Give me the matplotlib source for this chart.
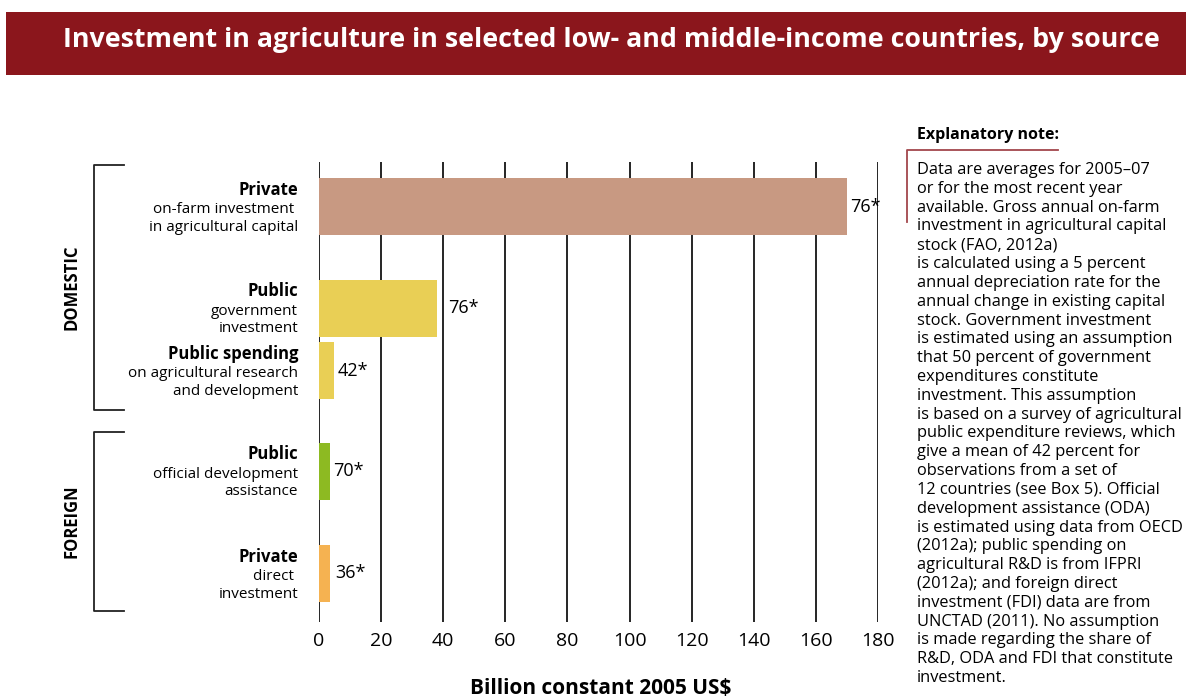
import matplotlib.pyplot as plt
from matplotlib.patches import Rectangle
from matplotlib.lines import Line2D

plt.rcParams['font.family'] = ['Open Sans', 'DejaVu Sans']

# Données
categories_bold = ['Private', 'Public', 'Public spending', 'Public', 'Private']
categories_detail = ['on-farm investment \nin agricultural capital',
                     'government\ninvestment',
                     'on agricultural research\nand development',
                     'official development\nassistance',
                     'direct \ninvestment']
values = [170, 38, 4.8, 3.5, 3.5]
value_labels = ['76*', '76*', '42*', '70*', '36*']
bar_colors = ['#C89982', '#E9CF55', '#E9CF55', '#8DBA22', '#F5B251']
xticks = list(range(0, 181, 20))

note = ("Data are averages for 2005\u201307\n"
        "or for the most recent year\n"
        "available. Gross annual on-farm\n"
        "investment in agricultural capital\n"
        "stock (FAO, 2012a)\n"
        "is calculated using a 5 percent\n"
        "annual depreciation rate for the\n"
        "annual change in existing capital\n"
        "stock. Government investment\n"
        "is estimated using an assumption\n"
        "that 50 percent of government\n"
        "expenditures constitute\n"
        "investment. This assumption\n"
        "is based on a survey of agricultural\n"
        "public expenditure reviews, which\n"
        "give a mean of 42 percent for\n"
        "observations from a set of\n"
        "12 countries (see Box 5). Official\n"
        "development assistance (ODA)\n"
        "is estimated using data from OECD\n"
        "(2012a); public spending on\n"
        "agricultural R&D is from IFPRI\n"
        "(2012a); and foreign direct\n"
        "investment (FDI) data are from\n"
        "UNCTAD (2011). No assumption\n"
        "is made regarding the share of\n"
        "R&D, ODA and FDI that constitute\n"
        "investment.")

W, H = 1186, 697


def fx(px):
    return px / W


def fy(py):
    return 1 - py / H


fig = plt.figure(figsize=(W / 100, H / 100), dpi=100)

# Bandeau du titre
fig.patches.append(Rectangle((fx(6), fy(75)), fx(1186 - 6), 63 / H, transform=fig.transFigure,
                             facecolor='#8B161C', edgecolor='none'))
fig.text(fx(611), fy(40), 'Investment in agriculture in selected low- and middle-income countries, by source',
         color='white', fontsize=19.3, fontweight='bold', ha='center', va='center')

# Axes principal
ax = fig.add_axes([fx(319), fy(622), fx(559), 460 / H])
positions = [4.45, 14.6, 20.85, 30.9, 41.15]
label_gap = [3, 11, 4, 3, 5]  # décalage (pixels) des étiquettes de valeur
ax.set_ylim(46, 0)
ax.set_xlim(0, 180)
ax.vlines(xticks, 0, 46, colors='black', linewidth=1.2, zorder=1)
ax.barh(positions, values, height=5.7, color=bar_colors, zorder=3)

for pos, val, lab, gap, b, d in zip(positions, values, value_labels, label_gap,
                                    categories_bold, categories_detail):
    ax.annotate(lab, xy=(val, pos), xytext=(gap, 0), textcoords='offset pixels',
                va='center', ha='left', fontsize=13, zorder=4)
    ax.annotate(b, xy=(0, pos), xycoords=('axes fraction', 'data'), xytext=(-21, 17),
                textcoords='offset pixels', ha='right', va='center', fontsize=12, fontweight='bold')
    ax.annotate(d, xy=(0, pos), xycoords=('axes fraction', 'data'), xytext=(-21, -12),
                textcoords='offset pixels', ha='right', va='center', fontsize=11, linespacing=1.2)

ax.set_xticks(xticks)
ax.tick_params(axis='x', length=0, pad=7, labelsize=14)
ax.set_yticks([])
for s in ax.spines.values():
    s.set_visible(False)

fig.text(fx(601), fy(688), 'Billion constant 2005 US\\$', fontsize=15, fontweight='bold',
         ha='center', va='center')

# Accolades DOMESTIC / FOREIGN
for top, bot, name in [(165, 410, 'DOMESTIC'), (432, 611, 'FOREIGN')]:
    fig.lines.append(Line2D([fx(124), fx(94), fx(94), fx(124)], [fy(top), fy(top), fy(bot), fy(bot)],
                            transform=fig.transFigure, color='#222222', linewidth=1.3))
    fig.text(fx(72), fy((top + bot) / 2), name, rotation=90, fontsize=12, fontweight='bold',
             ha='center', va='center')

# Note explicative
fig.text(fx(917), fy(135), 'Explanatory note:', fontsize=11.5, fontweight='bold', ha='left', va='center')
fig.lines.append(Line2D([fx(1058), fx(907), fx(907)], [fy(150), fy(150), fy(222)],
                        transform=fig.transFigure, color='#A2474C', linewidth=1.3))
fig.text(fx(917), fy(162), note, fontsize=11.8, linespacing=1.235, ha='left', va='top')

fig.savefig('out.png', dpi=100)
